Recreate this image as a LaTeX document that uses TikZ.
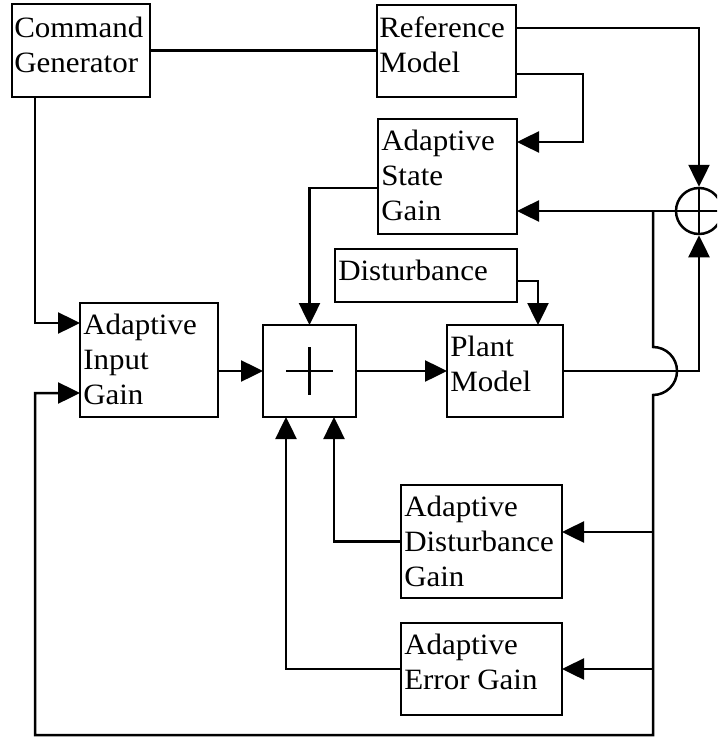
\documentclass[tikz,border=0pt]{standalone}
\usepackage{fontspec}
\newfontfamily\lblfont{Liberation Serif}[FakeStretch=1.05]
\usetikzlibrary{arrows.meta,calc}
\begin{document}
\begin{tikzpicture}[x=1pt,y=-1pt,line width=2.5pt,
  blk/.style={draw,rectangle,inner sep=0pt,outer sep=0pt},
  lbl/.style={anchor=north west,inner sep=0pt,align=left,
    font=\lblfont\fontsize{29.5}{35}\selectfont},
  arr/.style={-{Triangle[length=22pt,width=21pt]}}]
\useasboundingbox (0,0) rectangle (717,741);
\clip (0,0) rectangle (717,741);

% blocks
\node[blk,minimum width=138pt,minimum height=93pt] (cg)    at (81,50.5)   {};
\node[blk,minimum width=139pt,minimum height=92pt] (ref)   at (446.5,51)  {};
\node[blk,minimum width=139pt,minimum height=115pt] (asg)  at (447.5,176.5) {};
\node[blk,minimum width=182pt,minimum height=53pt] (dist)  at (426,275.5) {};
\node[blk,minimum width=138pt,minimum height=114pt] (aig)  at (149,360)   {};
\node[blk,minimum width=93pt,minimum height=92pt]  (sum)   at (309.5,371) {};
\node[blk,minimum width=116pt,minimum height=92pt] (plant) at (505,371)   {};
\node[blk,minimum width=161pt,minimum height=113pt] (adg)  at (481.5,541.5) {};
\node[blk,minimum width=161pt,minimum height=92pt] (aeg)   at (481.5,669) {};
\node[circle,draw,minimum size=46pt,inner sep=0pt] (circ)  at (699,211)   {};

% block labels
\node[lbl] (cg-t)    at ($(cg.north west)+(1,12)$)    {Command\\Generator};
\node[lbl] (ref-t)   at ($(ref.north west)+(1,10)$)   {Reference\\Model};
\node[lbl] (asg-t)   at ($(asg.north west)+(2,10)$)   {Adaptive\\State\\Gain};
\node[lbl] (dist-t)  at ($(dist.north west)+(2,10)$)  {Disturbance};
\node[lbl] (aig-t)   at ($(aig.north west)+(2,10)$)   {Adaptive\\Input\\Gain};
\node[lbl] (plant-t) at ($(plant.north west)+(2,10)$) {Plant\\Model};
\node[lbl] (adg-t)   at ($(adg.north west)+(2,10)$)   {Adaptive\\Disturbance\\Gain};
\node[lbl] (aeg-t)   at ($(aeg.north west)+(2,10)$)   {Adaptive\\Error Gain};

% summing symbols
\draw ($(sum.center)+(-23.5,0)$) -- ($(sum.center)+(23.5,0)$)
      ($(sum.center)+(0,-24)$) -- ($(sum.center)+(0,24)$);
\draw (circ.north) -- (circ.south) (circ.west) -- (circ.east);

% signal lines
\draw (cg.east) -- (cg.east -| ref.west);
\draw[arr] ($(ref.north east)+(0,23)$) -| (circ.north);
\draw[arr] ($(ref.north east)+(0,69)$) -| ($(asg.north east)+(66,23)$)
           -- ($(asg.north east)+(0,23)$);
\draw[arr] (circ.west) -- (circ.west -| asg.east);
\coordinate (tap) at (653,211);
\draw[arr] (tap) -- (653,347)
   .. controls (666.25,347) and (677,357.75) .. (677,371)
   .. controls (677,384.25) and (666.25,395) .. (653,395)
   -- (653,735) -| (35,393) -- ($(aig.north west)+(0,90)$);
\draw[arr] (653,532) -- ($(adg.north east)+(0,47)$);
\draw[arr] (653,669) -- (aeg.east);
\draw[arr] ($(cg.south west)+(23,0)$) |- ($(aig.north west)+(0,20)$);
\draw[arr] (aig.east |- sum.west) -- (sum.west);
\draw[arr] (sum.east) -- (plant.west);
\draw[arr] (plant.east) -| (circ.south);
\draw[arr] ($(asg.north west)+(0,69)$) -| (sum.north);
\draw[arr] ($(dist.north east)+(0,32)$) -| ($(plant.north)+(33,0)$);
\draw[arr] (adg.west) -| ($(sum.south)+(24.5,0)$);
\draw[arr] (aeg.west) -| ($(sum.south)+(-23.5,0)$);
\end{tikzpicture}
\end{document}
